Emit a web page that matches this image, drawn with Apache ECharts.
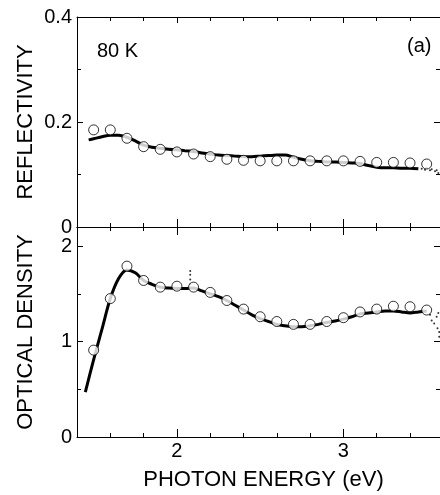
<!DOCTYPE html>
<html>
<head>
<meta charset="utf-8">
<script src="https://cdn.jsdelivr.net/npm/echarts@6/dist/echarts.min.js"></script>
<style>
  html, body { margin: 0; padding: 0; background: #fff; }
  #chart { width: 440px; height: 495px; }
</style>
</head>
<body>
<div id="chart"></div>
<script>
// calculated points (open circles), every 0.1 eV
var circleE = [1.5, 1.6, 1.7, 1.8, 1.9, 2.0, 2.1, 2.2, 2.3, 2.4, 2.5, 2.6, 2.7, 2.8, 2.9, 3.0, 3.1, 3.2, 3.3, 3.4, 3.5];
var reflCircle = [0.185, 0.185, 0.169, 0.153, 0.148, 0.143, 0.139, 0.134, 0.129, 0.127, 0.126, 0.126, 0.126, 0.126, 0.126, 0.126, 0.125, 0.123, 0.123, 0.122, 0.120];
var odCircle = [0.91, 1.45, 1.79, 1.64, 1.57, 1.58, 1.57, 1.515, 1.43, 1.34, 1.26, 1.21, 1.18, 1.18, 1.21, 1.25, 1.31, 1.34, 1.37, 1.365, 1.33];

// measured reflectivity (solid curve)
var reflLineE = [1.47, 1.5, 1.55, 1.6, 1.65, 1.7, 1.75, 1.8, 1.85, 1.9, 1.95, 2.0, 2.05, 2.1, 2.15, 2.2, 2.25, 2.3, 2.35, 2.4, 2.45, 2.5, 2.55, 2.6, 2.65, 2.7, 2.75, 2.8, 2.85, 2.9, 2.95, 3.0, 3.05, 3.1, 3.15, 3.2, 3.25, 3.3, 3.35, 3.4, 3.45];
var reflLine = [0.166, 0.168, 0.172, 0.175, 0.175, 0.171, 0.164, 0.156, 0.152, 0.150, 0.148, 0.147, 0.145, 0.144, 0.141, 0.139, 0.137, 0.136, 0.135, 0.134, 0.134, 0.135, 0.136, 0.137, 0.137, 0.133, 0.129, 0.126, 0.125, 0.124, 0.124, 0.123, 0.122, 0.121, 0.117, 0.114, 0.113, 0.113, 0.112, 0.112, 0.111];
// noisy end of the reflectivity data (dots)
var reflTailE = [3.47, 3.49, 3.5, 3.52, 3.53, 3.55, 3.56, 3.57];
var reflTail = [0.111, 0.109, 0.113, 0.108, 0.110, 0.106, 0.108, 0.103];

// measured optical density (solid curve)
var odLineE = [1.45, 1.5, 1.55, 1.6, 1.65, 1.7, 1.75, 1.8, 1.85, 1.9, 1.95, 2.0, 2.05, 2.1, 2.15, 2.2, 2.25, 2.3, 2.35, 2.4, 2.45, 2.5, 2.55, 2.6, 2.65, 2.7, 2.75, 2.8, 2.85, 2.9, 2.95, 3.0, 3.05, 3.1, 3.15, 3.2, 3.25, 3.3, 3.35, 3.4, 3.45, 3.5];
var odLine = [0.47, 0.81, 1.13, 1.45, 1.66, 1.75, 1.72, 1.64, 1.60, 1.57, 1.56, 1.555, 1.555, 1.56, 1.53, 1.50, 1.47, 1.43, 1.38, 1.33, 1.28, 1.24, 1.21, 1.18, 1.165, 1.155, 1.155, 1.165, 1.18, 1.20, 1.215, 1.235, 1.26, 1.29, 1.30, 1.31, 1.32, 1.32, 1.31, 1.30, 1.31, 1.32];
// spike near 2.08 eV and scattered points at the high-energy end
var odDotE = [2.08, 2.08, 2.08, 2.08, 3.52, 3.53, 3.545, 3.56, 3.565, 3.57, 3.575, 3.575];
var odDot = [1.60, 1.65, 1.70, 1.74, 1.28, 1.22, 1.19, 1.26, 1.14, 1.30, 1.10, 1.05];

// ticks on the energy axis
var minorTicksE = [1.6, 1.8, 2.2, 2.4, 2.6, 2.8, 3.2, 3.4];
var majorTicksE = [2, 3];

var myChart = echarts.init(document.getElementById('chart'));
var font = 'Liberation Sans, Arial, Helvetica, sans-serif';

function zip(xs, ys) {
    return xs.map(function (x, i) { return [x, ys[i]]; });
}

// one x axis (no labels unless asked)
function xAx(grid, pos, ticks, len, showLine) {
    return {
        type: 'value', gridIndex: grid, position: pos,
        min: 1.4, max: 3.58,
        axisLine: { show: showLine, onZero: false, lineStyle: { color: '#000', width: 1 } },
        axisTick: { show: true, inside: true, length: len, customValues: ticks, lineStyle: { color: '#000' } },
        axisLabel: { show: false },
        splitLine: { show: false }
    };
}

function yAx(grid, pos, max, interval, name) {
    return {
        type: 'value', gridIndex: grid, position: pos,
        min: 0, max: max, interval: interval,
        name: name, nameLocation: 'middle', nameGap: 40, nameMoveOverlap: false,
        nameTextStyle: { fontFamily: font, fontSize: 22, color: '#000' },
        axisLine: { show: pos === 'left', onZero: false, lineStyle: { color: '#000', width: 1 } },
        axisTick: { show: true, inside: true, length: 6, lineStyle: { color: '#000' } },
        minorTick: { show: true, splitNumber: 2, length: 4, lineStyle: { color: '#000' } },
        axisLabel: { show: pos === 'left', margin: 5, fontFamily: font, fontSize: 20, color: '#000' },
        splitLine: { show: false }
    };
}

var xAxes = [
    xAx(0, 'bottom', minorTicksE, 4, true),
    xAx(0, 'top', minorTicksE, 4, true),
    xAx(0, 'bottom', majorTicksE, 8, false),
    xAx(0, 'top', majorTicksE, 6, false),
    xAx(1, 'bottom', minorTicksE, 4, true),
    xAx(1, 'top', minorTicksE, 4, true),
    xAx(1, 'bottom', majorTicksE, 8, false),
    xAx(1, 'top', majorTicksE, 8, false)
];
xAxes[6].axisLabel = { show: true, customValues: majorTicksE, margin: 4, fontFamily: font, fontSize: 20, color: '#000' };
xAxes[6].name = 'PHOTON ENERGY (eV)';
xAxes[6].nameLocation = 'middle';
xAxes[6].nameGap = 32;
xAxes[6].nameTextStyle = { fontFamily: font, fontSize: 22, color: '#000', padding: [0, 0, 0, 10] };

var circleStyle = { color: '#fff', borderColor: '#000', borderWidth: 1 };

var option = {
    animation: false,
    backgroundColor: '#fff',
    grid: [
        { left: 77, top: 17, width: 363, height: 210 },
        { left: 77, top: 227, width: 363, height: 210 }
    ],
    xAxis: xAxes,
    yAxis: [
        yAx(0, 'left', 0.4, 0.2, 'REFLECTIVITY'),
        yAx(0, 'right', 0.4, 0.2, ''),
        yAx(1, 'left', 2.2, 1, 'OPTICAL DENSITY'),
        yAx(1, 'right', 2.2, 1, '')
    ],
    graphic: [
        { type: 'text', left: 97, top: 41, style: { text: '80 K', font: '20px ' + font, fill: '#000' } },
        { type: 'text', left: 407, top: 36, style: { text: '(a)', font: '20px ' + font, fill: '#000' } }
    ],
    series: [
        {
            type: 'line', xAxisIndex: 0, yAxisIndex: 0, data: zip(reflLineE, reflLine),
            showSymbol: false, smooth: 0.3, lineStyle: { color: '#000', width: 3 }, z: 2
        },
        {
            type: 'scatter', xAxisIndex: 0, yAxisIndex: 0, data: zip(reflTailE, reflTail),
            symbolSize: 2, itemStyle: { color: '#000' }, z: 2
        },
        {
            type: 'scatter', xAxisIndex: 0, yAxisIndex: 0, data: zip(circleE, reflCircle),
            symbol: 'circle', symbolSize: 10, itemStyle: circleStyle, z: 3
        },
        {
            type: 'line', xAxisIndex: 4, yAxisIndex: 2, data: zip(odLineE, odLine),
            showSymbol: false, smooth: 0.3, lineStyle: { color: '#000', width: 3 }, z: 2
        },
        {
            type: 'scatter', xAxisIndex: 4, yAxisIndex: 2, data: zip(odDotE, odDot),
            symbolSize: 2, itemStyle: { color: '#000' }, z: 2
        },
        {
            type: 'scatter', xAxisIndex: 4, yAxisIndex: 2, data: zip(circleE, odCircle),
            symbol: 'circle', symbolSize: 10, itemStyle: circleStyle, z: 3
        }
    ]
};

myChart.setOption(option);
</script>
</body>
</html>
